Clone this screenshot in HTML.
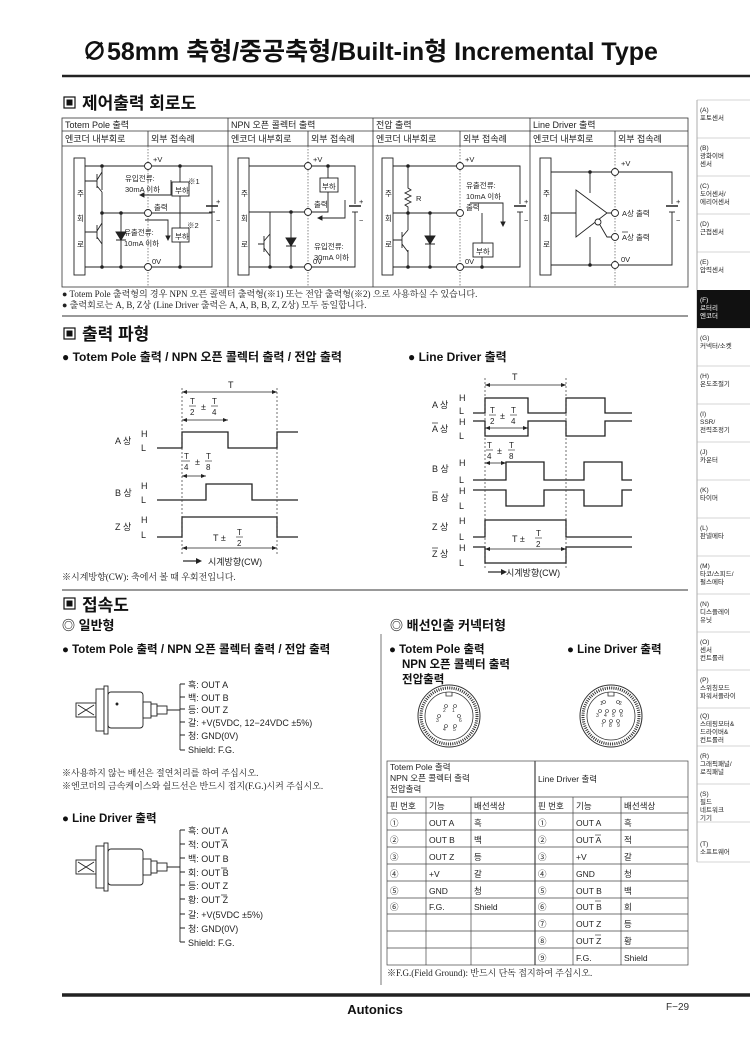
<!DOCTYPE html>
<html><head><meta charset="utf-8">
<style>
html,body{margin:0;padding:0;background:#fff;}
svg{display:block;font-family:"Liberation Sans","Noto Sans CJK KR",sans-serif;}
.s{font-family:"Liberation Serif","Noto Serif CJK SC",serif;}
.b{font-weight:bold;}
</style></head><body>
<svg width="750" height="1053" viewBox="0 0 750 1053" xmlns="http://www.w3.org/2000/svg" fill="none" stroke="none">
<text x="82" y="60" font-size="25" font-weight="bold" fill="#111">∅58mm 축형/중공축형/Built-in형 Incremental Type</text>
<line x1="62" y1="76" x2="750" y2="76" stroke="#222" stroke-width="2.5"/>

<g font-size="6.5" fill="#222">
<line x1="697" y1="100" x2="697" y2="862" stroke="#999" stroke-width="0.8"/>
<g stroke="#aaa" stroke-width="0.6">
<line x1="697" y1="100" x2="750" y2="100"/><line x1="697" y1="138" x2="750" y2="138"/><line x1="697" y1="176" x2="750" y2="176"/><line x1="697" y1="214" x2="750" y2="214"/><line x1="697" y1="252" x2="750" y2="252"/><line x1="697" y1="328" x2="750" y2="328"/><line x1="697" y1="366" x2="750" y2="366"/><line x1="697" y1="404" x2="750" y2="404"/><line x1="697" y1="442" x2="750" y2="442"/><line x1="697" y1="480" x2="750" y2="480"/><line x1="697" y1="518" x2="750" y2="518"/><line x1="697" y1="556" x2="750" y2="556"/><line x1="697" y1="594" x2="750" y2="594"/><line x1="697" y1="632" x2="750" y2="632"/><line x1="697" y1="670" x2="750" y2="670"/><line x1="697" y1="708" x2="750" y2="708"/><line x1="697" y1="746" x2="750" y2="746"/><line x1="697" y1="784" x2="750" y2="784"/><line x1="697" y1="822" x2="750" y2="822"/><line x1="697" y1="862" x2="750" y2="862"/>
</g>
<rect x="697" y="290" width="53" height="38" fill="#111"/>
<text x="700" y="112">(A)</text><text x="700" y="120">포토센서</text>
<text x="700" y="150">(B)</text><text x="700" y="158">광화이버</text><text x="700" y="166">센서</text>
<text x="700" y="188">(C)</text><text x="700" y="196">도어센서/</text><text x="700" y="204">에리어센서</text>
<text x="700" y="226">(D)</text><text x="700" y="234">근접센서</text>
<text x="700" y="264">(E)</text><text x="700" y="272">압력센서</text>
<g fill="#fff"><text x="700" y="302">(F)</text><text x="700" y="310">로터리</text><text x="700" y="318">엔코더</text></g>
<text x="700" y="340">(G)</text><text x="700" y="348">커넥터/소켓</text>
<text x="700" y="378">(H)</text><text x="700" y="386">온도조절기</text>
<text x="700" y="416">(I)</text><text x="700" y="424">SSR/</text><text x="700" y="432">전력조정기</text>
<text x="700" y="454">(J)</text><text x="700" y="462">카운터</text>
<text x="700" y="492">(K)</text><text x="700" y="500">타이머</text>
<text x="700" y="530">(L)</text><text x="700" y="538">판넬메타</text>
<text x="700" y="568">(M)</text><text x="700" y="576">타코/스피드/</text><text x="700" y="584">펄스메타</text>
<text x="700" y="606">(N)</text><text x="700" y="614">디스플레이</text><text x="700" y="622">유닛</text>
<text x="700" y="644">(O)</text><text x="700" y="652">센서</text><text x="700" y="660">컨트롤러</text>
<text x="700" y="682">(P)</text><text x="700" y="690">스위칭모드</text><text x="700" y="698">파워서플라이</text>
<text x="700" y="718">(Q)</text><text x="700" y="726">스테핑모터&amp;</text><text x="700" y="734">드라이버&amp;</text><text x="700" y="742">컨트롤러</text>
<text x="700" y="758">(R)</text><text x="700" y="766">그래픽패널/</text><text x="700" y="774">로직패널</text>
<text x="700" y="796">(S)</text><text x="700" y="804">필드</text><text x="700" y="812">네트워크</text><text x="700" y="820">기기</text>
<text x="700" y="846">(T)</text><text x="700" y="854">소프트웨어</text>
</g>

<rect x="64" y="97" width="11" height="11" fill="none" stroke="#111" stroke-width="1.2"/><rect x="66.5" y="99.5" width="6" height="6" fill="#111"/>
<text x="82" y="109" font-size="17" font-weight="bold" fill="#111">제어출력 회로도</text>
<g stroke="#333" stroke-width="0.8">
<rect x="62" y="118" width="626" height="169"/>
<line x1="62" y1="131" x2="688" y2="131"/><line x1="62" y1="146" x2="688" y2="146"/>
<line x1="228" y1="118" x2="228" y2="287"/><line x1="373" y1="118" x2="373" y2="287"/><line x1="530" y1="118" x2="530" y2="287"/>
<line x1="148" y1="131" x2="148" y2="146"/><line x1="308" y1="131" x2="308" y2="146"/><line x1="460" y1="131" x2="460" y2="146"/><line x1="615" y1="131" x2="615" y2="146"/>
</g>
<g stroke="#555" stroke-width="0.7" stroke-dasharray="1.5,1.5">
<line x1="148" y1="146" x2="148" y2="287"/><line x1="308" y1="146" x2="308" y2="287"/><line x1="460" y1="146" x2="460" y2="287"/><line x1="615" y1="146" x2="615" y2="287"/>
</g>
<g font-size="9" fill="#222">
<text x="65" y="128">Totem Pole 출력</text><text x="231" y="128">NPN 오픈 콜렉터 출력</text><text x="376" y="128">전압 출력</text><text x="533" y="128">Line Driver 출력</text>
<text x="65" y="142">엔코더 내부회로</text><text x="151" y="142">외부 접속례</text>
<text x="231" y="142">엔코더 내부회로</text><text x="311" y="142">외부 접속례</text>
<text x="376" y="142">엔코더 내부회로</text><text x="463" y="142">외부 접속례</text>
<text x="533" y="142">엔코더 내부회로</text><text x="618" y="142">외부 접속례</text>
</g>
<g stroke="#222" stroke-width="0.9" fill="none">
<rect x="74" y="158" width="11" height="117"/>
<path d="M85 166H212V267H85M102 166V190M102 210V250M102 250V267M85 181H97M85 232H97M97 174V188M97 225V239M97 180L102 172M97 186L102 192M97 231L102 223M97 237L102 244M102 213H212M121 213V267M102 192V220M102 244V267M180 166V182M180 196V228M180 242V267M212 204V208M212 215V267M212 166V204"/>
<rect x="172" y="182" width="17" height="14" fill="#fff"/><rect x="172" y="228" width="17" height="14" fill="#fff"/>
<path d="M116 232L121 240L126 232ZM116 240H126" fill="#222"/>
<line x1="206" y1="206" x2="218" y2="206" stroke-width="1.5"/><line x1="209" y1="212" x2="215" y2="212"/>
<path d="M171 180V195H140" /><path d="M140 195l4 -2v4z" fill="#222"/>
<path d="M145 220H168V238"/><path d="M166 236l2 4 2-4z" fill="#222"/>
<rect x="238" y="158" width="11" height="117"/>
<path d="M249 166H355V204M355 212V267H249M328 166V178M328 192V212H249M270 212V267M291 212V267M258 244H264M264 236V252M264 241L270 234M264 248L270 256"/>
<rect x="320" y="178" width="18" height="14" fill="#fff"/>
<path d="M286 238L291 246L296 238ZM286 246H296" fill="#222"/>
<line x1="349" y1="206" x2="361" y2="206" stroke-width="1.5"/><line x1="352" y1="212" x2="358" y2="212"/>
<path d="M345 200V218H318"/><path d="M318 218l4 -2v4z" fill="#222"/>
<rect x="382" y="158" width="11" height="117"/>
<path d="M393 166H520V204M520 212V267H393M408 166V188l3 2-6 3 6 3-6 3 6 3-6 3 3 2V213H460M408 213V230M430 213V267M408 250V267M393 240H402M402 232V248M402 237L408 230M402 244L408 252M482 213V243M482 257V267M393 213H408"/>
<rect x="473" y="243" width="20" height="14" fill="#fff"/>
<path d="M425 236L430 244L435 236ZM425 244H435" fill="#222"/>
<line x1="514" y1="206" x2="526" y2="206" stroke-width="1.5"/><line x1="517" y1="212" x2="523" y2="212"/>
<path d="M470 203H503V225"/><path d="M501 222l2 4 2-4z" fill="#222"/>
<rect x="540" y="158" width="11" height="117"/>
<path d="M551 172H672V204M672 212V265H551M590 172V193M590 237V265M551 213H576M576 190L607 213L576 237ZM607 213H615M600 225L607 237H615"/>
<circle cx="598" cy="222" r="3" fill="#fff"/>
<line x1="666" y1="206" x2="678" y2="206" stroke-width="1.5"/><line x1="669" y1="212" x2="675" y2="212"/>
</g>
<g fill="#222">
<circle cx="102" cy="166" r="1.8"/><circle cx="180" cy="166" r="1.8"/><circle cx="102" cy="213" r="1.8"/><circle cx="121" cy="213" r="1.8"/><circle cx="102" cy="267" r="1.8"/><circle cx="121" cy="267" r="1.8"/><circle cx="180" cy="267" r="1.8"/>
<circle cx="328" cy="166" r="1.8"/><circle cx="270" cy="267" r="1.8"/><circle cx="291" cy="267" r="1.8"/><circle cx="291" cy="212" r="1.8"/>
<circle cx="408" cy="166" r="1.8"/><circle cx="408" cy="213" r="1.8"/><circle cx="430" cy="213" r="1.8"/><circle cx="408" cy="267" r="1.8"/><circle cx="430" cy="267" r="1.8"/><circle cx="482" cy="267" r="1.8"/>
<circle cx="590" cy="172" r="1.8"/><circle cx="590" cy="265" r="1.8"/>
</g>
<g fill="#fff" stroke="#222" stroke-width="0.9">
<circle cx="148" cy="166" r="3.5"/><circle cx="148" cy="213" r="3.5"/><circle cx="148" cy="267" r="3.5"/>
<circle cx="308" cy="166" r="3.5"/><circle cx="308" cy="212" r="3.5"/><circle cx="308" cy="267" r="3.5"/>
<circle cx="460" cy="166" r="3.5"/><circle cx="460" cy="213" r="3.5"/><circle cx="460" cy="267" r="3.5"/>
<circle cx="615" cy="172" r="3.5"/><circle cx="615" cy="213" r="3.5"/><circle cx="615" cy="237" r="3.5"/><circle cx="615" cy="265" r="3.5"/>
</g>
<g font-size="7.5" fill="#222">
<text x="77" y="196">주</text><text x="77" y="221">회</text><text x="77" y="247">로</text>
<text x="241" y="196">주</text><text x="241" y="221">회</text><text x="241" y="247">로</text>
<text x="385" y="196">주</text><text x="385" y="221">회</text><text x="385" y="247">로</text>
<text x="543" y="196">주</text><text x="543" y="221">회</text><text x="543" y="247">로</text>
<text x="153" y="162">+V</text><text x="125" y="181">유입전류:</text><text x="125" y="192">30mA 이하</text><text x="188" y="184">※1</text><text x="175" y="193">부하</text>
<text x="154" y="210">출력</text><text x="187" y="228">※2</text><text x="175" y="239">부하</text><text x="124" y="235">유출전류:</text><text x="124" y="246">10mA 이하</text><text x="152" y="264">0V</text>
<text x="216" y="204">+</text><text x="216" y="223">−</text>
<text x="313" y="162">+V</text><text x="322" y="189">부하</text><text x="314" y="207">출력</text><text x="314" y="249">유입전류:</text><text x="314" y="260">30mA 이하</text><text x="313" y="264">0V</text>
<text x="359" y="204">+</text><text x="359" y="223">−</text>
<text x="465" y="162">+V</text><text x="416" y="201">R</text><text x="466" y="188">유출전류:</text><text x="466" y="199">10mA 이하</text><text x="466" y="210">출력</text><text x="476" y="254">부하</text><text x="465" y="264">0V</text>
<text x="524" y="204">+</text><text x="524" y="223">−</text>
<text x="621" y="166">+V</text><text x="622" y="216">A상 출력</text><text x="622" y="240">A상 출력</text><text x="621" y="262">0V</text>
<text x="676" y="204">+</text><text x="676" y="223">−</text>
</g>
<line x1="622" y1="232" x2="628" y2="232" stroke="#222" stroke-width="0.7"/>
<g class="s" font-size="9" fill="#222">
<text x="62" y="297">● Totem Pole 출력형의 경우 NPN 오픈 콜렉터 출력형(※1) 또는 전압 출력형(※2) 으로 사용하실 수 있습니다.</text>
<text x="62" y="308">● 출력회로는 A, B, Z상 (Line Driver 출력은 A, A, B, B, Z, Z상) 모두 동일합니다.</text>
</g>
<line x1="62" y1="316" x2="688" y2="316" stroke="#333" stroke-width="1"/>

<rect x="64" y="328" width="11" height="11" fill="none" stroke="#111" stroke-width="1.2"/><rect x="66.5" y="330.5" width="6" height="6" fill="#111"/>
<text x="82" y="340" font-size="17" font-weight="bold" fill="#111">출력 파형</text>
<text x="62" y="361" font-size="12" font-weight="bold" fill="#111">● Totem Pole 출력 / NPN 오픈 콜렉터 출력 / 전압 출력</text>
<text x="408" y="361" font-size="12" font-weight="bold" fill="#111">● Line Driver 출력</text>
<g stroke="#222" stroke-width="1.3" fill="none">
<path d="M157 448H182V432H228V448H277V432H298"/>
<path d="M157 500H206V484H252V500H298"/>
<path d="M157 537H182V517H277V537H298"/>
<path d="M473 413H485V398H528V413H566V398H605V413H632"/>
<path d="M473 421H485V436H528V421H566V436H605V421H632"/>
<path d="M473 480H506V462H544V480H584V462H622V480H632"/>
<path d="M473 490H506V506H544V490H584V506H622V490H632"/>
<path d="M473 537H485V520H566V537H632"/>
<path d="M473 547H485V563H566V547H632"/>
</g>
<g stroke="#333" stroke-width="0.7" stroke-dasharray="2,2">
<line x1="182" y1="388" x2="182" y2="555"/><line x1="277" y1="388" x2="277" y2="555"/>
<line x1="485" y1="378" x2="485" y2="570"/><line x1="566" y1="378" x2="566" y2="570"/>
</g>
<g stroke="#222" stroke-width="0.7">
<line x1="182" y1="392" x2="277" y2="392"/><line x1="182" y1="420" x2="228" y2="420"/><line x1="182" y1="476" x2="206" y2="476"/><line x1="182" y1="548" x2="277" y2="548"/>
<line x1="485" y1="385" x2="566" y2="385"/><line x1="485" y1="428" x2="528" y2="428"/><line x1="485" y1="463" x2="506" y2="463"/><line x1="485" y1="549" x2="566" y2="549"/>
<line x1="183" y1="561" x2="197" y2="561" stroke-width="1.2"/><line x1="488" y1="572" x2="502" y2="572" stroke-width="1.2"/>
</g>
<g fill="#222">
<path d="M182 392l5-2v4zM277 392l-5-2v4zM182 420l5-2v4zM228 420l-5-2v4zM182 476l5-2v4zM206 476l-5-2v4zM182 548l5-2v4zM277 548l-5-2v4z"/>
<path d="M485 385l5-2v4zM566 385l-5-2v4zM485 428l5-2v4zM528 428l-5-2v4zM485 463l5-2v4zM506 463l-5-2v4zM485 549l5-2v4zM566 549l-5-2v4z"/>
<path d="M202 561l-6-3v6zM507 572l-6-3v6z"/>
</g>
<g font-size="9" fill="#222">
<text x="228" y="388">T</text>
<text x="190" y="404" font-size="8">T</text><line x1="189" y1="406" x2="196" y2="406" stroke="#222" stroke-width="0.6"/><text x="190" y="415" font-size="8">2</text><text x="201" y="410">±</text><text x="212" y="404" font-size="8">T</text><line x1="211" y1="406" x2="218" y2="406" stroke="#222" stroke-width="0.6"/><text x="212" y="415" font-size="8">4</text>
<text x="115" y="444">A 상</text><text x="141" y="437">H</text><text x="141" y="451">L</text>
<text x="184" y="459" font-size="8">T</text><line x1="183" y1="461" x2="190" y2="461" stroke="#222" stroke-width="0.6"/><text x="184" y="470" font-size="8">4</text><text x="195" y="465">±</text><text x="206" y="459" font-size="8">T</text><line x1="205" y1="461" x2="212" y2="461" stroke="#222" stroke-width="0.6"/><text x="206" y="470" font-size="8">8</text>
<text x="115" y="496">B 상</text><text x="141" y="489">H</text><text x="141" y="503">L</text>
<text x="115" y="530">Z 상</text><text x="141" y="523">H</text><text x="141" y="538">L</text>
<text x="213" y="541">T ±</text><text x="237" y="535" font-size="8">T</text><line x1="236" y1="537" x2="243" y2="537" stroke="#222" stroke-width="0.6"/><text x="237" y="546" font-size="8">2</text>
<text x="208" y="565">시계방향(CW)</text>
<text x="512" y="380">T</text>
<text x="432" y="408">A 상</text><text x="459" y="401">H</text><text x="459" y="414">L</text>
<text x="490" y="413" font-size="8">T</text><line x1="489" y1="415" x2="496" y2="415" stroke="#222" stroke-width="0.6"/><text x="490" y="424" font-size="8">2</text><text x="500" y="419">±</text><text x="511" y="413" font-size="8">T</text><line x1="510" y1="415" x2="517" y2="415" stroke="#222" stroke-width="0.6"/><text x="511" y="424" font-size="8">4</text>
<text x="432" y="432">A 상</text><line x1="432" y1="423" x2="438" y2="423" stroke="#222" stroke-width="0.7"/><text x="459" y="425">H</text><text x="459" y="439">L</text>
<text x="487" y="448" font-size="8">T</text><line x1="486" y1="450" x2="493" y2="450" stroke="#222" stroke-width="0.6"/><text x="487" y="459" font-size="8">4</text><text x="497" y="454">±</text><text x="509" y="448" font-size="8">T</text><line x1="508" y1="450" x2="515" y2="450" stroke="#222" stroke-width="0.6"/><text x="509" y="459" font-size="8">8</text>
<text x="432" y="472">B 상</text><text x="459" y="466">H</text><text x="459" y="483">L</text>
<text x="432" y="501">B 상</text><line x1="432" y1="492" x2="438" y2="492" stroke="#222" stroke-width="0.7"/><text x="459" y="494">H</text><text x="459" y="509">L</text>
<text x="432" y="530">Z 상</text><text x="459" y="524">H</text><text x="459" y="540">L</text>
<text x="432" y="557">Z 상</text><line x1="432" y1="548" x2="438" y2="548" stroke="#222" stroke-width="0.7"/><text x="459" y="551">H</text><text x="459" y="566">L</text>
<text x="512" y="542">T ±</text><text x="536" y="536" font-size="8">T</text><line x1="535" y1="538" x2="542" y2="538" stroke="#222" stroke-width="0.6"/><text x="536" y="547" font-size="8">2</text>
<text x="506" y="576">시계방향(CW)</text>
</g>
<text class="s" x="62" y="580" font-size="9" fill="#222">※시계방향(CW): 축에서 볼 때 우회전입니다.</text>
<line x1="62" y1="590" x2="688" y2="590" stroke="#333" stroke-width="1"/>

<rect x="64" y="598" width="11" height="11" fill="none" stroke="#111" stroke-width="1.2"/><rect x="66.5" y="600.5" width="6" height="6" fill="#111"/>
<text x="82" y="611" font-size="17" font-weight="bold" fill="#111">접속도</text>
<text x="62" y="630" font-size="13" font-weight="bold" fill="#111">◎ 일반형</text>
<text x="390" y="630" font-size="13" font-weight="bold" fill="#111">◎ 배선인출 커넥터형</text>
<line x1="381" y1="634" x2="381" y2="985" stroke="#555" stroke-width="0.8"/>
<text x="62" y="653" font-size="11.5" font-weight="bold" fill="#111">● Totem Pole 출력 / NPN 오픈 콜렉터 출력 / 전압 출력</text>
<g font-size="11.5" font-weight="bold" fill="#111">
<text x="389" y="653">● Totem Pole 출력</text><text x="402" y="668">NPN 오픈 콜렉터 출력</text><text x="402" y="683">전압출력</text>
<text x="567" y="653">● Line Driver 출력</text>
<text x="62" y="822">● Line Driver 출력</text>
</g>
<g stroke="#222" stroke-width="0.9" fill="#fff">
<rect x="76" y="703" width="20" height="14"/><path d="M78 705L94 715M78 715L94 705" fill="none"/>
<rect x="96" y="689" width="8" height="42"/><rect x="104" y="686" width="4" height="48"/><rect x="108" y="692" width="35" height="36" rx="3"/>
<rect x="143" y="702" width="8" height="16"/><rect x="151" y="704" width="6" height="12"/><rect x="157" y="706" width="10" height="8"/>
<path d="M167 710H180M180 684V750M180 684h5M180 697h5M180 709h5M180 722h5M180 735h5M180 750h5" fill="none"/>
<circle cx="117" cy="704" r="1" fill="#222"/>
</g>
<g font-size="9" fill="#222">
<text x="188" y="688">흑: OUT A</text><text x="188" y="701">백: OUT B</text><text x="188" y="713">등: OUT Z</text><text x="188" y="726">갈: +V(5VDC, 12−24VDC ±5%)</text><text x="188" y="739">청: GND(0V)</text><text x="188" y="753">Shield: F.G.</text>
</g>
<g class="s" font-size="9" fill="#222"><text x="62" y="776">※사용하지 않는 배선은 절연처리를 하여 주십시오.</text><text x="62" y="789">※엔코더의 금속케이스와 쉴드선은 반드시 접지(F.G.)시켜 주십시오.</text></g>
<g stroke="#222" stroke-width="0.9" fill="#fff">
<rect x="76" y="860" width="20" height="14"/><path d="M78 862L94 872M78 872L94 862" fill="none"/>
<rect x="96" y="846" width="8" height="42"/><rect x="104" y="843" width="4" height="48"/><rect x="108" y="849" width="35" height="36" rx="3"/>
<rect x="143" y="859" width="8" height="16"/><rect x="151" y="861" width="6" height="12"/><rect x="157" y="863" width="10" height="8"/>
<path d="M167 867H180M180 830V942M180 830h5M180 844h5M180 858h5M180 872h5M180 885h5M180 899h5M180 914h5M180 928h5M180 942h5" fill="none"/>
</g>
<g font-size="9" fill="#222">
<text x="188" y="834">흑: OUT A</text><text x="188" y="848">적: OUT A</text><text x="188" y="862">백: OUT B</text><text x="188" y="876">회: OUT B</text><text x="188" y="889">등: OUT Z</text><text x="188" y="903">황: OUT Z</text><text x="188" y="918">갈: +V(5VDC ±5%)</text><text x="188" y="932">청: GND(0V)</text><text x="188" y="946">Shield: F.G.</text>
</g>
<g stroke="#222" stroke-width="0.7"><line x1="221" y1="840" x2="227" y2="840"/><line x1="221" y1="868" x2="227" y2="868"/><line x1="221" y1="895" x2="227" y2="895"/></g>
<g stroke="#333" fill="none">
<circle cx="449" cy="716" r="31" stroke-width="1"/><circle cx="449" cy="716" r="28" stroke-width="3" stroke-dasharray="1,1.2"/><circle cx="449" cy="716" r="24" stroke-width="0.8"/>
<circle cx="611" cy="716" r="31" stroke-width="1"/><circle cx="611" cy="716" r="28" stroke-width="3" stroke-dasharray="1,1.2"/><circle cx="611" cy="716" r="24" stroke-width="0.8"/>
<path d="M446 692v4h6v-4M608 692v4h6v-4" stroke-width="0.8"/>
</g>
<g font-size="5" fill="#333">
<text x="443" y="712">2</text><text x="452" y="712">1</text><text x="436" y="722">3</text><text x="459" y="722">6</text><text x="443" y="731">4</text><text x="453" y="731">5</text>
<text x="600" y="705">1</text><text x="619" y="705">2</text><text x="596" y="717">3</text><text x="604" y="717">4</text><text x="612" y="717">5</text><text x="620" y="717">6</text><text x="601" y="727">7</text><text x="609" y="727">8</text><text x="617" y="727">9</text>
</g>
<g stroke="#333" stroke-width="0.6" fill="#fff">
<circle cx="446" cy="706" r="1.5"/><circle cx="455" cy="706" r="1.5"/><circle cx="439" cy="716" r="1.5"/><circle cx="459" cy="716" r="1.5"/><circle cx="446" cy="726" r="1.5"/><circle cx="455" cy="726" r="1.5"/>
<circle cx="604" cy="702" r="1.5"/><circle cx="618" cy="702" r="1.5"/><circle cx="600" cy="711" r="1.5"/><circle cx="607" cy="711" r="1.5"/><circle cx="614" cy="711" r="1.5"/><circle cx="621" cy="711" r="1.5"/><circle cx="604" cy="721" r="1.5"/><circle cx="611" cy="721" r="1.5"/><circle cx="618" cy="721" r="1.5"/>
</g>
<g stroke="#444" stroke-width="0.7">
<rect x="387" y="761" width="301" height="204"/>
<line x1="535" y1="761" x2="535" y2="965" stroke-width="1.2"/>
<line x1="387" y1="797" x2="688" y2="797"/><line x1="387" y1="813" x2="688" y2="813"/><line x1="387" y1="830" x2="688" y2="830"/><line x1="387" y1="847" x2="688" y2="847"/><line x1="387" y1="864" x2="688" y2="864"/><line x1="387" y1="881" x2="688" y2="881"/><line x1="387" y1="898" x2="688" y2="898"/><line x1="387" y1="914" x2="688" y2="914"/><line x1="387" y1="931" x2="688" y2="931"/><line x1="387" y1="948" x2="688" y2="948"/>
<line x1="426" y1="797" x2="426" y2="965"/><line x1="471" y1="797" x2="471" y2="965"/><line x1="573" y1="797" x2="573" y2="965"/><line x1="621" y1="797" x2="621" y2="965"/>
</g>
<g font-size="8.5" fill="#222">
<text x="390" y="770">Totem Pole 출력</text><text x="390" y="781">NPN 오픈 콜렉터 출력</text><text x="390" y="792">전압출력</text><text x="538" y="782">Line Driver 출력</text>
<text x="390" y="809">핀 번호</text><text x="429" y="809">기능</text><text x="474" y="809">배선색상</text><text x="538" y="809">핀 번호</text><text x="576" y="809">기능</text><text x="624" y="809">배선색상</text>
<text x="390" y="826">①</text><text x="429" y="826">OUT A</text><text x="474" y="826">흑</text><text x="538" y="826">①</text><text x="576" y="826">OUT A</text><text x="624" y="826">흑</text>
<text x="390" y="843">②</text><text x="429" y="843">OUT B</text><text x="474" y="843">백</text><text x="538" y="843">②</text><text x="576" y="843">OUT A</text><text x="624" y="843">적</text>
<text x="390" y="860">③</text><text x="429" y="860">OUT Z</text><text x="474" y="860">등</text><text x="538" y="860">③</text><text x="576" y="860">+V</text><text x="624" y="860">갈</text>
<text x="390" y="877">④</text><text x="429" y="877">+V</text><text x="474" y="877">갈</text><text x="538" y="877">④</text><text x="576" y="877">GND</text><text x="624" y="877">청</text>
<text x="390" y="894">⑤</text><text x="429" y="894">GND</text><text x="474" y="894">청</text><text x="538" y="894">⑤</text><text x="576" y="894">OUT B</text><text x="624" y="894">백</text>
<text x="390" y="910">⑥</text><text x="429" y="910">F.G.</text><text x="474" y="910">Shield</text><text x="538" y="910">⑥</text><text x="576" y="910">OUT B</text><text x="624" y="910">회</text>
<text x="538" y="927">⑦</text><text x="576" y="927">OUT Z</text><text x="624" y="927">등</text>
<text x="538" y="944">⑧</text><text x="576" y="944">OUT Z</text><text x="624" y="944">황</text>
<text x="538" y="961">⑨</text><text x="576" y="961">F.G.</text><text x="624" y="961">Shield</text>
</g>
<g stroke="#222" stroke-width="0.6"><line x1="595" y1="835" x2="601" y2="835"/><line x1="595" y1="901" x2="601" y2="901"/><line x1="595" y1="935" x2="601" y2="935"/></g>
<text class="s" x="387" y="976" font-size="9" fill="#222">※F.G.(Field Ground): 반드시 단독 접지하여 주십시오.</text>

<line x1="62" y1="995" x2="750" y2="995" stroke="#222" stroke-width="3.5"/>
<text x="375" y="1014" font-size="13" font-weight="bold" fill="#111" text-anchor="middle">Autonics</text>
<text x="666" y="1010" font-size="10" fill="#333">F−29</text>
</svg>
</body></html>
